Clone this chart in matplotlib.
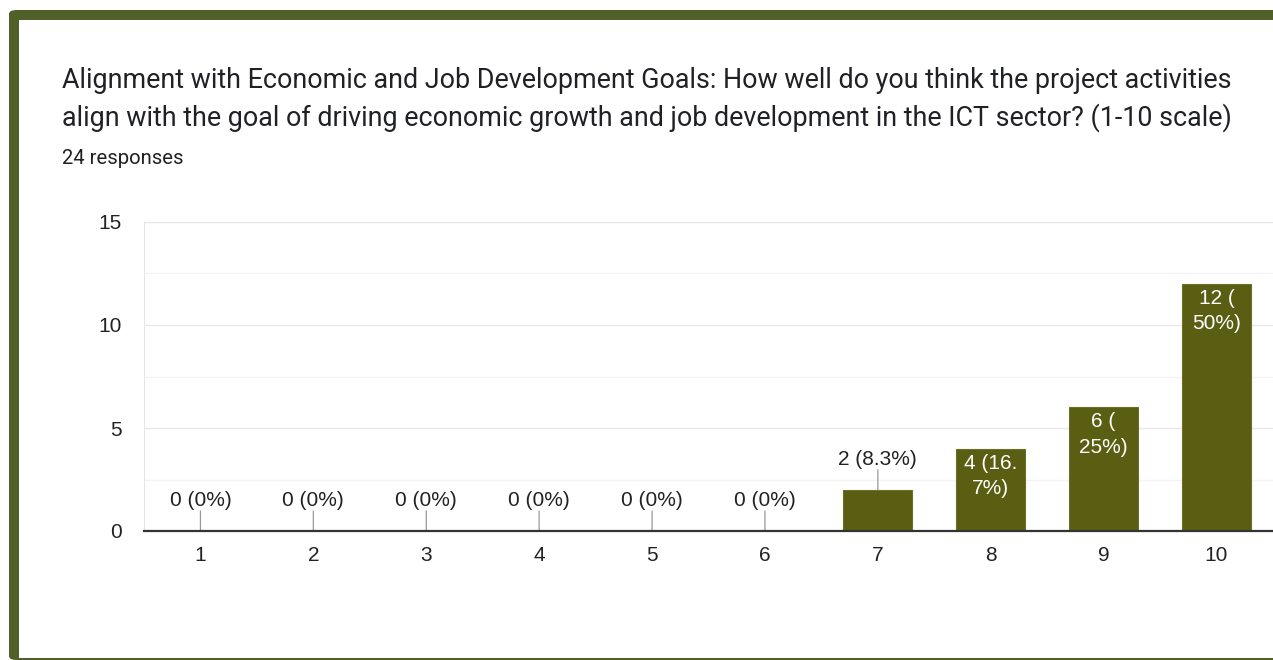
import matplotlib
matplotlib.use("Agg")
import matplotlib.pyplot as plt
from matplotlib.patches import Rectangle, FancyBboxPatch

# Survey results: score (1-10) and number of responses
scores = ["1", "2", "3", "4", "5", "6", "7", "8", "9", "10"]
counts = [0, 0, 0, 0, 0, 0, 2, 4, 6, 12]
bar_labels = ["0 (0%)", "0 (0%)", "0 (0%)", "0 (0%)", "0 (0%)", "0 (0%)",
              "2 (8.3%)", "4 (16.\n7%)", "6 (\n25%)", "12 (\n50%)"]
y_ticks = [0, 5, 10, 15]

title_lines = [
    "Alignment with Economic and Job Development Goals: How well do you think the project activities",
    "align with the goal of driving economic growth and job development in the ICT sector? (1-10 scale)",
]
subtitle = "24 responses"

BAR = "#5a5e12"
FRAME = "#4f6128"
W, H = 1273, 660

fig = plt.figure(figsize=(W / 100, H / 100), dpi=100)
fig.patch.set_facecolor("white")

# card frame: green outer shape with a white inner panel
outer = FancyBboxPatch((9 / W, 0), (W + 40) / W, (H - 10) / H,
                       boxstyle="round,pad=0,rounding_size=0.006",
                       transform=fig.transFigure, facecolor=FRAME,
                       edgecolor="none", zorder=-2)
fig.add_artist(outer)
fig.add_artist(Rectangle((19 / W, 2 / H), (W - 19) / W, (H - 22) / H,
                         transform=fig.transFigure, facecolor="white",
                         edgecolor="none", zorder=-1))

# heading
fig.text(62 / W, 1 - 88 / H, title_lines[0], fontsize=19.4, family="Roboto",
         color="#202124", ha="left", va="baseline")
fig.text(62 / W, 1 - 126 / H, title_lines[1], fontsize=19.4, family="Roboto",
         color="#202124", ha="left", va="baseline")
fig.text(62 / W, 1 - 164 / H, subtitle, fontsize=14.6, family="Roboto",
         color="#202124", ha="left", va="baseline")

ax = fig.add_axes([144 / W, 129 / H, (W - 144) / W, 309 / H])
ax.set_zorder(1)
ax.set_facecolor("none")
x = list(range(1, len(scores) + 1))
ax.bar(x, counts, width=0.61, color=BAR, edgecolor="#6b7028", linewidth=0.8,
       zorder=3)

ax.set_xlim(0.5, 10.5)
ax.set_ylim(0, 15)
ax.set_xticks(x)
ax.set_xticklabels(scores)
ax.set_yticks(y_ticks)
ax.set_yticks([2.5, 7.5, 12.5], minor=True)
ax.grid(axis="y", which="major", color="#e8e8e8", linewidth=1, zorder=0)
ax.grid(axis="y", which="minor", color="#f3f3f3", linewidth=1, zorder=0)
ax.tick_params(axis="both", which="both", length=0, labelsize=15,
               labelcolor="#222222", labelfontfamily="Liberation Sans")
ax.tick_params(axis="y", pad=16)
ax.tick_params(axis="x", pad=11)
for side in ("top", "right"):
    ax.spines[side].set_visible(False)
ax.spines["left"].set_color("#e6e6e6")
ax.spines["left"].set_linewidth(0.8)
ax.spines["bottom"].set_color("#333333")
ax.spines["bottom"].set_linewidth(1.6)
ax.spines["bottom"].set_zorder(4)

for xi, c, lab in zip(x, counts, bar_labels):
    if c >= 4:
        ax.annotate(lab, (xi, c), xytext=(0, -5), textcoords="offset pixels",
                    ha="center", va="top", color="white", fontsize=15,
                    family="Liberation Sans", linespacing=1.42, zorder=5)
    else:
        ax.annotate("", (xi, c), xytext=(0, 20), textcoords="offset pixels",
                    arrowprops=dict(arrowstyle="-", color="#999999", lw=0.9,
                                    shrinkA=0, shrinkB=0), zorder=4)
        ax.annotate(lab, (xi, c), xytext=(0, 30), textcoords="offset pixels",
                    ha="center", va="center", color="#222222", fontsize=15,
                    family="Liberation Sans", zorder=5)

fig.savefig("out.png", dpi=100)
